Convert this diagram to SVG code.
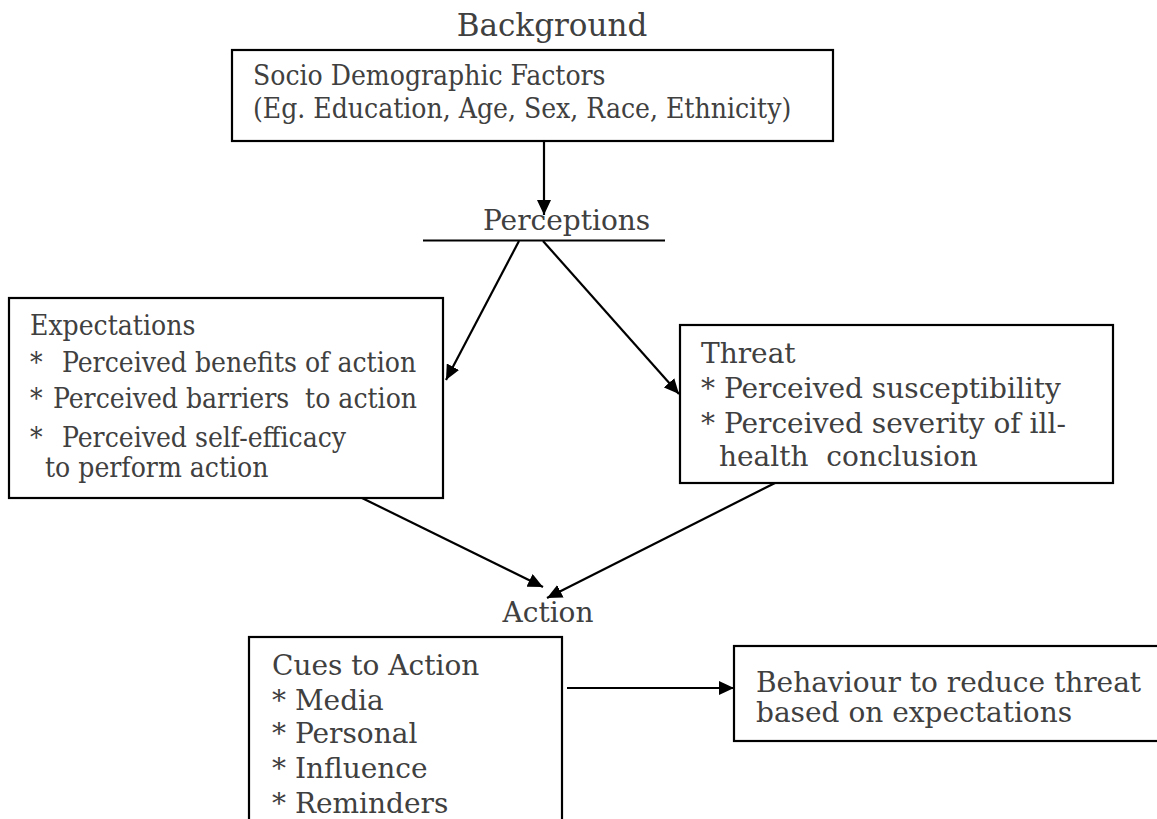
<svg xmlns="http://www.w3.org/2000/svg" width="1157" height="819" viewBox="0 0 1157 819">
  <style>
    text { font-family: "DejaVu Serif", serif; font-size: 28px; fill: #404040; }
    .cond { font-family: "DejaVu Serif Condensed", "DejaVu Serif", serif; font-stretch: condensed; }
    .title { font-size: 31px; }
    .box { fill: #ffffff; stroke: #000000; stroke-width: 2.2; }
    .conn { stroke: #000000; stroke-width: 2.2; fill: none; }
  </style>
  <defs>
    <marker id="arrow" markerUnits="userSpaceOnUse" markerWidth="16" markerHeight="14" refX="15" refY="7" orient="auto">
      <path d="M0,0 L15,7 L0,14 z" fill="#000000"/>
    </marker>
  </defs>
  <rect x="0" y="0" width="1157" height="819" fill="#ffffff"/>

  <g id="background-title">
    <text class="title" x="552" y="36" text-anchor="middle">Background</text>
  </g>

  <g id="socio">
    <rect class="box" x="232" y="50" width="601" height="91"/>
    <text class="cond" x="253" y="85">Socio Demographic Factors</text>
    <text class="cond" x="253" y="118">(Eg. Education, Age, Sex, Race, Ethnicity)</text>
  </g>

  <g id="perceptions">
    <text x="483" y="230">Perceptions</text>
    <line x1="423" y1="240.5" x2="665" y2="240.5" stroke="#000" stroke-width="2.2"/>
  </g>

  <g id="expectations">
    <rect class="box" x="9" y="298" width="434" height="200"/>
    <text class="cond" x="30" y="335">Expectations</text>
    <text class="cond" x="30" y="372">*</text>
    <text class="cond" x="62" y="372">Perceived benefits of action</text>
    <text class="cond" x="30" y="408">*</text>
    <text class="cond" x="53" y="408">Perceived barriers&#160; to action</text>
    <text class="cond" x="30" y="447">*</text>
    <text class="cond" x="62" y="447">Perceived self-efficacy</text>
    <text class="cond" x="45" y="477">to perform action</text>
  </g>

  <g id="threat">
    <rect class="box" x="680" y="325" width="433" height="158"/>
    <text x="701" y="363">Threat</text>
    <text x="701" y="398">* Perceived susceptibility</text>
    <text x="701" y="433">* Perceived severity of ill-</text>
    <text x="719" y="466">health&#160; conclusion</text>
  </g>

  <g id="action">
    <text x="548" y="622" text-anchor="middle">Action</text>
  </g>

  <g id="cues">
    <rect class="box" x="249" y="637" width="313" height="200"/>
    <text x="272" y="675">Cues to Action</text>
    <text x="272" y="710">* Media</text>
    <text x="272" y="743">* Personal</text>
    <text x="272" y="778">* Influence</text>
    <text x="272" y="813">* Reminders</text>
  </g>

  <g id="behaviour">
    <rect class="box" x="734" y="646" width="430" height="95"/>
    <text x="756" y="692">Behaviour to reduce threat</text>
    <text x="756" y="722">based on expectations</text>
  </g>

  <g id="connectors">
    <line class="conn" x1="544" y1="142" x2="544" y2="215" marker-end="url(#arrow)"/>
    <line class="conn" x1="519" y1="241" x2="446" y2="380" marker-end="url(#arrow)"/>
    <line class="conn" x1="543" y1="241" x2="679" y2="394" marker-end="url(#arrow)"/>
    <line class="conn" x1="362" y1="498" x2="543" y2="587" marker-end="url(#arrow)"/>
    <line class="conn" x1="775" y1="483" x2="547" y2="598" marker-end="url(#arrow)"/>
    <line class="conn" x1="567" y1="688" x2="734" y2="688" marker-end="url(#arrow)"/>
  </g>
</svg>
